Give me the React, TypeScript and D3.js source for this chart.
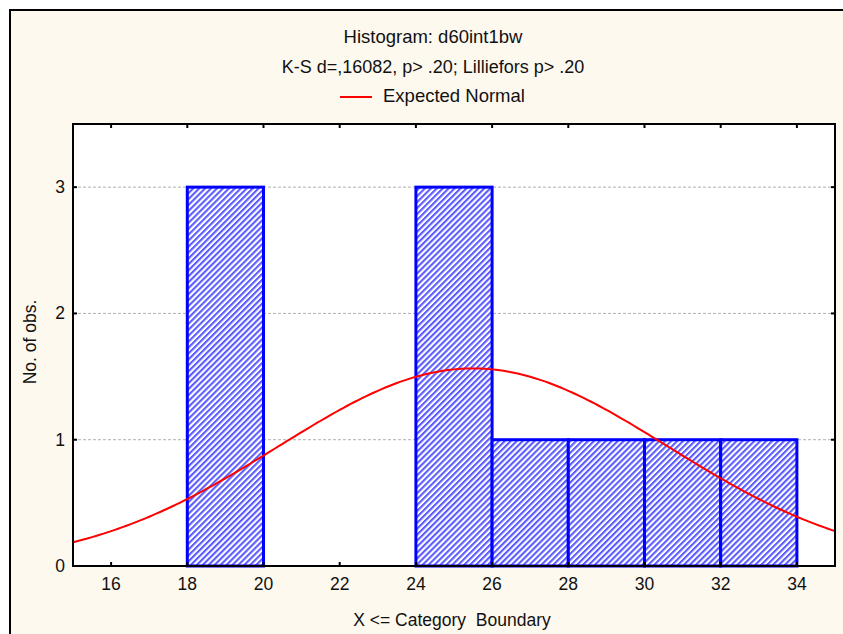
import React from "react";
import * as d3 from "d3";

const binStarts = [18, 24, 26, 28, 30, 32];
const binEnds = [20, 26, 28, 30, 32, 34];
const binCounts = [3, 3, 1, 1, 1, 1];
const xTicks = [16, 18, 20, 22, 24, 26, 28, 30, 32, 34];
const yTicks = [0, 1, 2, 3];
const nObs = 10;
const binWidth = 2;
const normMean = 25.5;
const normSd = 5.1;
const title = "Histogram: d60int1bw";
const subtitle = "K-S d=,16082, p> .20; Lilliefors p> .20";
const legendLabel = "Expected Normal";
const xLabel = "X <= Category  Boundary";
const yLabel = "No. of obs.";

const W = 843, H = 634;
const left = 73, right = 835, top = 124, bottom = 566;

export default function App() {
  const x = d3.scaleLinear().domain([15, 35]).range([left, right]);
  const y = d3.scaleLinear().domain([0, 3.5]).range([bottom, top]);
  const xs = d3.range(15, 35.001, 0.1);
  const curve = d3
    .line<number>()
    .x((v) => x(v))
    .y((v) => y((nObs * binWidth) / (normSd * Math.sqrt(2 * Math.PI)) * Math.exp(-((v - normMean) ** 2) / (2 * normSd * normSd))))(xs);
  const font = "'Liberation Sans', Arial, sans-serif";
  return (
    <div style={{ position: "absolute", left: 0, top: 0 }}>
      <svg width={W} height={H} style={{ display: "block", fontFamily: font }}>
        <defs>
          <pattern id="hatch" width="4.2" height="4.2" patternUnits="userSpaceOnUse" patternTransform="rotate(45)">
            <rect width="4.2" height="4.2" fill="#ffffff" />
            <rect x="0" width="2.1" height="4.2" fill="#5b5bff" />
          </pattern>
          <clipPath id="plotclip">
            <rect x={left} y={top} width={right - left} height={bottom - top} />
          </clipPath>
        </defs>
        <rect x={0} y={0} width={W} height={H} fill="#ffffff" />
        <rect x={10} y={10} width={W + 10} height={H + 10} fill="#fdf9ef" stroke="#000" strokeWidth={2} />
        <rect x={left} y={top} width={right - left} height={bottom - top} fill="#ffffff" />
        {yTicks.filter((t) => t > 0).map((t) => (
          <line key={"g" + t} x1={left} x2={right} y1={y(t)} y2={y(t)} stroke="#b0b0b0" strokeWidth={1} strokeDasharray="3,2" />
        ))}
        {binStarts.map((s, i) => (
          <rect key={"b" + i} x={x(s)} y={y(binCounts[i])} width={x(binEnds[i]) - x(s)} height={y(0) - y(binCounts[i])}
            fill="url(#hatch)" stroke="#0000ff" strokeWidth={3} />
        ))}
        <path d={curve || ""} fill="none" stroke="#ff0000" strokeWidth={2} clipPath="url(#plotclip)" />
        <rect x={left} y={top} width={right - left} height={bottom - top} fill="none" stroke="#000" strokeWidth={2} />
        {xTicks.map((t) => (
          <g key={"x" + t}>
            <line x1={x(t)} x2={x(t)} y1={bottom} y2={bottom - 4} stroke="#000" strokeWidth={2} />
            <line x1={x(t)} x2={x(t)} y1={top} y2={top + 4} stroke="#000" strokeWidth={2} />
            <text x={x(t)} y={bottom + 24} textAnchor="middle" fontSize={17.5} fill="#111">{t}</text>
          </g>
        ))}
        {yTicks.map((t) => (
          <g key={"y" + t}>
            <line x1={left} x2={left + 4} y1={y(t)} y2={y(t)} stroke="#000" strokeWidth={2} />
            <line x1={right} x2={right - 4} y1={y(t)} y2={y(t)} stroke="#000" strokeWidth={2} />
            <text x={left - 8} y={y(t) + 6} textAnchor="end" fontSize={17.5} fill="#111">{t}</text>
          </g>
        ))}
        <text x={433} y={43} textAnchor="middle" fontSize={18.5} fill="#111">{title}</text>
        <text x={433} y={73} textAnchor="middle" fontSize={18} fill="#111">{subtitle}</text>
        <line x1={340} x2={372} y1={97} y2={97} stroke="#ff0000" strokeWidth={2} />
        <text x={383} y={102} fontSize={18.5} fill="#111">{legendLabel}</text>
        <text x={452} y={626} textAnchor="middle" fontSize={17.5} fill="#111" style={{ whiteSpace: "pre" }}>{xLabel}</text>
        <text transform={`translate(36, ${342}) rotate(-90)`} textAnchor="middle" fontSize={17.5} fill="#111">{yLabel}</text>
      </svg>
    </div>
  );
}
